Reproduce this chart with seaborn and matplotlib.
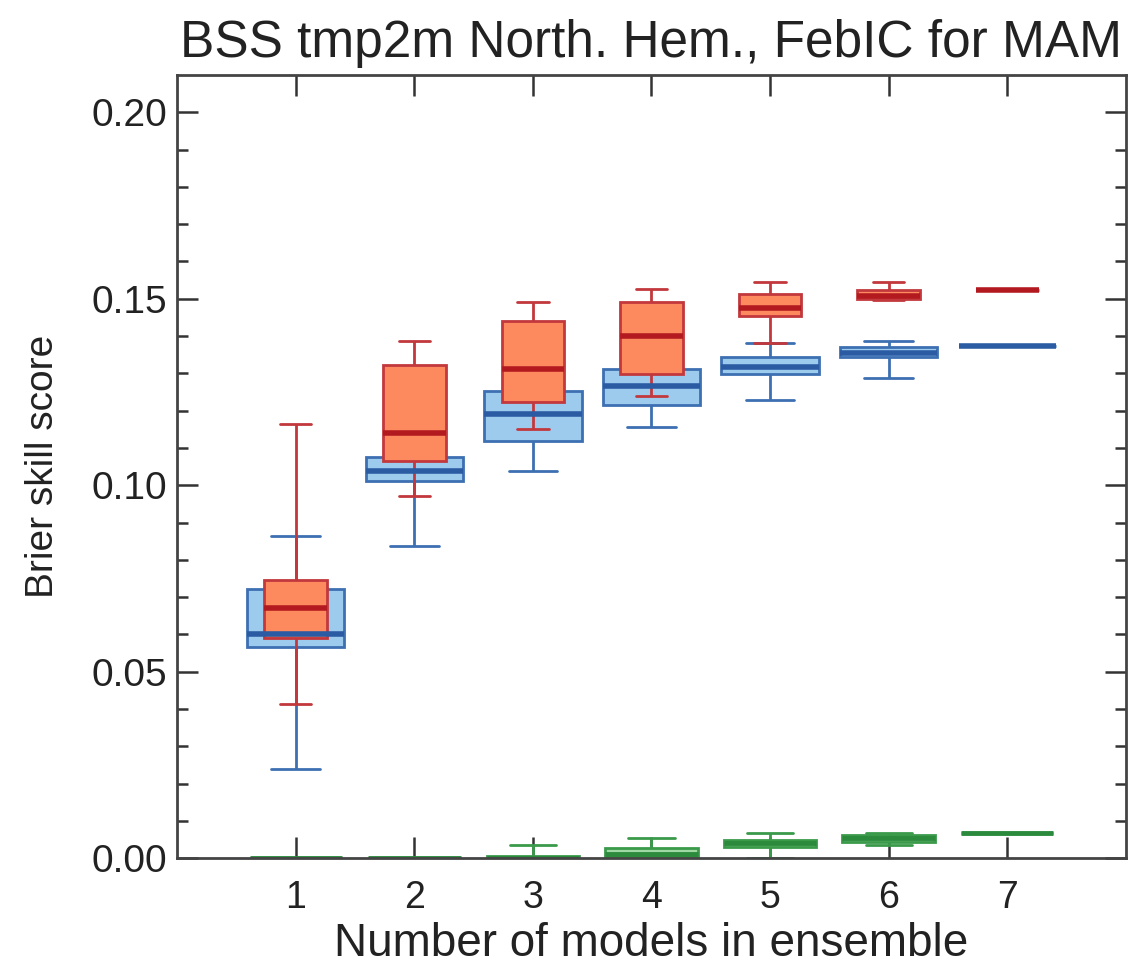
import numpy as np
import pandas as pd
import matplotlib
matplotlib.use('Agg')
import matplotlib.pyplot as plt
import seaborn as sns

# Number of models in the ensemble
n_models = [1, 2, 3, 4, 5, 6, 7]

# Box statistics: low whisker, q1, median, q3, high whisker
blue_lo  = [0.0239, 0.0838, 0.1037, 0.1156, 0.1228, 0.1288, 0.1374]
blue_q1  = [0.0567, 0.1010, 0.1118, 0.1215, 0.1298, 0.1344, 0.1374]
blue_med = [0.0600, 0.1037, 0.1190, 0.1266, 0.1317, 0.1355, 0.1374]
blue_q3  = [0.0723, 0.1075, 0.1253, 0.1312, 0.1344, 0.1371, 0.1374]
blue_hi  = [0.0863, 0.1100, 0.1280, 0.1330, 0.1380, 0.1387, 0.1374]

red_lo  = [0.0414, 0.0970, 0.1150, 0.1240, 0.1380, 0.1500, 0.1524]
red_q1  = [0.0589, 0.1065, 0.1223, 0.1298, 0.1454, 0.1497, 0.1524]
red_med = [0.0672, 0.1140, 0.1312, 0.1400, 0.1476, 0.1508, 0.1524]
red_q3  = [0.0747, 0.1323, 0.1440, 0.1492, 0.1513, 0.1524, 0.1524]
red_hi  = [0.1164, 0.1387, 0.1490, 0.1527, 0.1546, 0.1546, 0.1524]

green_lo  = [0.0, 0.0, 0.0,    0.0,    0.0,    0.0035, 0.0067]
green_q1  = [0.0, 0.0, 0.0,    0.0003, 0.0030, 0.0043, 0.0067]
green_med = [0.0, 0.0, 0.0,    0.0012, 0.0040, 0.0055, 0.0067]
green_q3  = [0.0, 0.0, 0.0005, 0.0027, 0.0048, 0.0062, 0.0067]
green_hi  = [0.0, 0.0, 0.0035, 0.0054, 0.0067, 0.0067, 0.0067]


# Long-form table: five values per box so quartiles/whiskers come out as read
def make_frame(lo, q1, med, q3, hi):
    rows = []
    for i, n in enumerate(n_models):
        for v in (lo[i], q1[i], med[i], q3[i], hi[i]):
            rows.append({'n': n, 'bss': v})
    return pd.DataFrame(rows)


blue_df = make_frame(blue_lo, blue_q1, blue_med, blue_q3, blue_hi)
red_df = make_frame(red_lo, red_q1, red_med, red_q3, red_hi)
green_df = make_frame(green_lo, green_q1, green_med, green_q3, green_hi)

sns.set_style('ticks')
plt.rcParams['font.family'] = ['Liberation Sans', 'DejaVu Sans']

fig = plt.figure(figsize=(11.36, 9.73), dpi=100)
ax = fig.add_axes([0.156, 0.118, 0.835, 0.805])

series = [
    (blue_df, 0.82, '#9ccbee', '#3d70b2', '#2a5ba3', 2.0, 4.0),
    (red_df, 0.53, '#fd8a5e', '#c2383c', '#b31a20', 2.0, 4.0),
    (green_df, 0.78, '#9fd8a3', '#3a9a4a', '#2b8a3c', 2.0, 3.5),
]
for df, w, fill, line, med_c, lw, mlw in series:
    sns.boxplot(data=df, x='n', y='bss', native_scale=True, width=w,
                whis=(0, 100), showfliers=False, color=fill, linecolor=line,
                linewidth=lw, saturation=1,
                medianprops=dict(color=med_c, linewidth=mlw), ax=ax)

# Axes
ax.set_xlim(0, 8)
ax.set_ylim(0, 0.21)
ax.set_xticks(n_models)
ax.set_xticklabels([str(n) for n in n_models])
ax.set_yticks([0.0, 0.05, 0.10, 0.15, 0.20])
ax.set_yticklabels(['0.00', '0.05', '0.10', '0.15', '0.20'])
ax.set_yticks(np.arange(0, 0.21, 0.01), minor=True)
ax.tick_params(axis='both', which='both', direction='in', top=True, right=True,
               colors='#333333', labelcolor='#222222', labelsize=27, width=1.8)
ax.tick_params(axis='y', labelsize=28)
ax.tick_params(axis='x', which='major', length=15, pad=16)
ax.tick_params(axis='y', which='major', length=15, pad=7)
ax.tick_params(axis='y', which='minor', length=8)
for s in ax.spines.values():
    s.set_visible(True)
    s.set_color('#444444')
    s.set_linewidth(2.0)

ax.set_xlabel('Number of models in ensemble', fontsize=33, color='#222222', labelpad=4)
ax.set_ylabel('Brier skill score', fontsize=28, color='#222222', labelpad=22)
ax.set_title('BSS tmp2m North. Hem., FebIC for MAM', fontsize=37, color='#222222', pad=13)

fig.savefig('out.png', dpi=100)
